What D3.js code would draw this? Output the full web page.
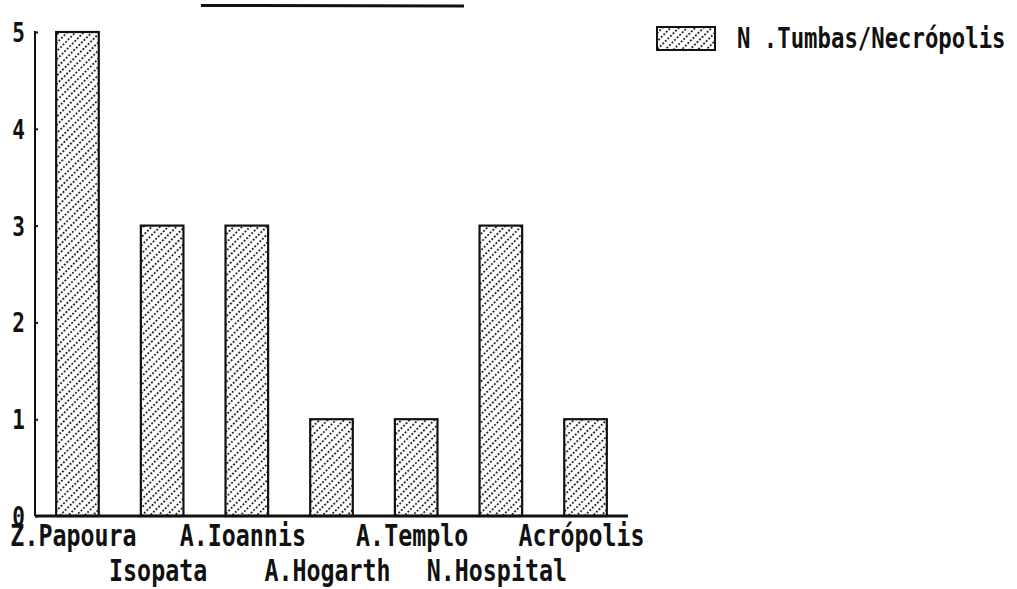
<!DOCTYPE html>
<html>
<head>
<meta charset="utf-8">
<script src="https://cdn.jsdelivr.net/npm/d3@7"></script>
<style>
  html, body { margin: 0; padding: 0; background: #fff; }
  svg { display: block; }
  text { font-family: "DejaVu Sans Mono", "Liberation Mono", monospace; font-weight: bold; fill: #111; }
</style>
</head>
<body>
<svg id="chart" width="1017" height="589"></svg>
<script>
const categories = ["Z.Papoura", "Isopata", "A.Ioannis", "A.Hogarth", "A.Templo", "N.Hospital", "Acrópolis"];
const values = [5, 3, 3, 1, 1, 3, 1];
const yTicks = [0, 1, 2, 3, 4, 5];
const seriesName = "N .Tumbas/Necrópolis";

const svg = d3.select("#chart");
const ink = "#111";
const SY = 1.3;

const defs = svg.append("defs");
const pat = defs.append("pattern")
  .attr("id", "hatch").attr("patternUnits", "userSpaceOnUse")
  .attr("width", 5.8).attr("height", 3.6)
  .attr("patternTransform", "rotate(45)");
pat.append("rect").attr("x", 0).attr("y", 0).attr("width", 1.7).attr("height", 1.9).attr("fill", ink);

const x = d3.scaleBand().domain(categories).range([35, 628]).paddingInner(0.497).paddingOuter(0.25);
const y = d3.scaleLinear().domain([0, 5]).range([516, 32]);

function label(g, txt, px, py, size, anchor) {
  g.append("text")
    .attr("transform", `translate(${px},${py}) scale(1,${SY})`)
    .attr("text-anchor", anchor || "middle")
    .attr("font-size", size)
    .text(txt);
}

// top stray line
svg.append("line").attr("x1", 201).attr("x2", 464).attr("y1", 5.5).attr("y2", 6)
  .attr("stroke", ink).attr("stroke-width", 3);

// bars
svg.append("g").selectAll("rect").data(categories).join("rect")
  .attr("x", d => x(d))
  .attr("y", (d, i) => y(values[i]))
  .attr("width", x.bandwidth())
  .attr("height", (d, i) => y(0) - y(values[i]))
  .attr("fill", "url(#hatch)")
  .attr("stroke", ink).attr("stroke-width", 2.2);

// y axis
const yAxis = d3.axisRight(y).tickValues(yTicks).tickSize(3).tickFormat("");
const ya = svg.append("g").attr("transform", "translate(35,0)").call(yAxis);
ya.select(".domain").remove();
ya.selectAll(".tick line").attr("stroke", ink).attr("stroke-width", 2);
svg.append("line").attr("x1", 35).attr("x2", 35).attr("y1", y(5) - 1).attr("y2", y(0))
  .attr("stroke", ink).attr("stroke-width", 2);

// y labels
const yl = svg.append("g");
yTicks.forEach(t => label(yl, String(t), 25, y(t) + 10, 21, "end"));

// x axis
const xAxis = d3.axisBottom(x).tickSize(0).tickFormat("");
const xa = svg.append("g").attr("transform", `translate(0,${y(0)})`).call(xAxis);
xa.select(".domain").attr("stroke", ink).attr("stroke-width", 3).attr("d", "M35,0H628");

// x labels, staggered
const xl = svg.append("g");
categories.forEach((c, i) => {
  const cx = x(c) + x.bandwidth() / 2 - 4;
  const by = i % 2 === 0 ? 546 : 581;
  label(xl, c, cx, by, 23.3, "middle");
});

// legend
const lg = svg.append("g");
lg.append("rect").attr("x", 657).attr("y", 27).attr("width", 58).attr("height", 23)
  .attr("fill", "url(#hatch)").attr("stroke", ink).attr("stroke-width", 2);
label(lg, seriesName, 737, 48, 22.3, "start");
</script>
</body>
</html>
